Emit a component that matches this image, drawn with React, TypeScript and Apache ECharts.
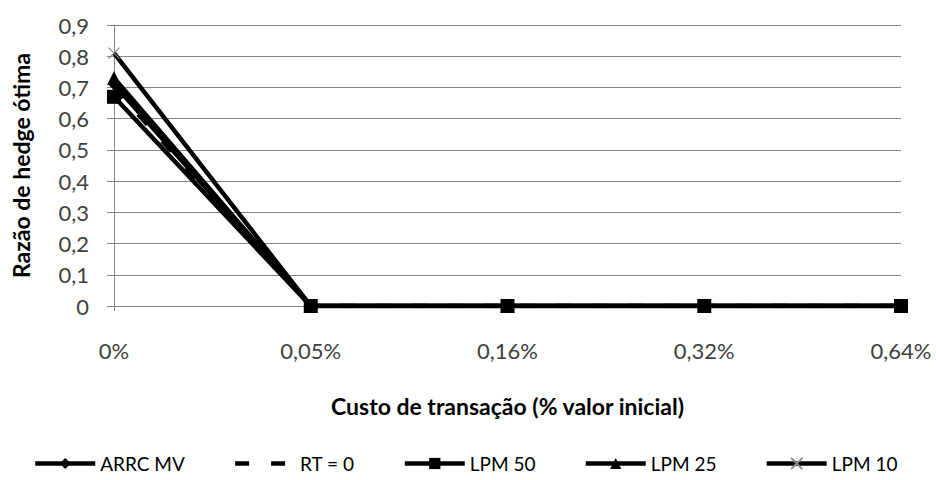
import React, { useEffect, useRef } from "react";
import * as echarts from "echarts";

const categories = ["0%", "0,05%", "0,16%", "0,32%", "0,64%"];
const arrcMv = [0.71, 0, 0, 0, 0];
const rt0 = [0.7, 0, 0, 0, 0];
const lpm50 = [0.67, 0, 0, 0, 0];
const lpm25 = [0.73, 0, 0, 0, 0];
const lpm10 = [0.81, 0, 0, 0, 0];
const yTicks = [0, 0.1, 0.2, 0.3, 0.4, 0.5, 0.6, 0.7, 0.8, 0.9];
const seriesNames = ["ARRC MV", "RT = 0", "LPM 50", "LPM 25", "LPM 10"];

const FONT = "Lato";

export default function App() {
  const ref = useRef<HTMLDivElement>(null);
  useEffect(() => {
    if (!ref.current) return;
    const chart = echarts.init(ref.current, null, { renderer: "svg" });
    const crossPath = "path://M0,0L10,10M10,0L0,10";
    const base = {
      type: "line" as const,
      lineStyle: { color: "#000", width: 4.5 },
      itemStyle: { color: "#000" },
      symbolSize: 12,
      z: 3,
    };
    chart.setOption({
      animation: false,
      textStyle: { fontFamily: FONT },
      grid: { left: 114, right: 35, top: 25, bottom: 174, containLabel: false },
      legend: {
        bottom: 2,
        left: 28,
        itemWidth: 60,
        itemHeight: 14,
        itemGap: 48,
        textStyle: { fontFamily: FONT, fontSize: 19, color: "#000" },
        data: seriesNames.map((n) =>
          n === "RT = 0"
            ? { name: n, itemStyle: { opacity: 0 }, lineStyle: { width: 4.5, type: [14, 22] } }
            : { name: n, lineStyle: { width: 4.5 } }
        ),
      },
      xAxis: {
        type: "category",
        data: categories,
        boundaryGap: false,
        name: "Custo de transação (% valor inicial)",
        nameLocation: "middle",
        nameGap: 88,
        nameTextStyle: { fontFamily: FONT, fontSize: 23, fontWeight: "bold", color: "#000" },
        axisLine: { lineStyle: { color: "#868686", width: 1 } },
        axisTick: { show: true, length: 5, alignWithLabel: true, lineStyle: { color: "#868686" } },
        axisLabel: { margin: 33, fontSize: 22, color: "#404040", fontFamily: FONT },
        splitLine: { show: false },
      },
      yAxis: {
        type: "value",
        min: 0,
        max: 0.9,
        interval: 0.1,
        name: "Razão de hedge ótima",
        nameLocation: "middle",
        nameGap: 82,
        nameTextStyle: { fontFamily: FONT, fontSize: 23, fontWeight: "bold", color: "#000" },
        axisLine: { show: true, lineStyle: { color: "#868686", width: 1 } },
        axisTick: { show: true, length: 7, lineStyle: { color: "#868686" } },
        axisLabel: {
          margin: 25,
          fontSize: 22,
          color: "#404040",
          fontFamily: FONT,
          formatter: (v: number) => {
            const t = yTicks.find((x) => Math.abs(x - v) < 1e-9);
            return t === undefined ? "" : String(t).replace(".", ",");
          },
        },
        splitLine: { show: true, lineStyle: { color: "#868686", width: 1 } },
      },
      series: [
        { ...base, name: "ARRC MV", data: arrcMv, symbol: "diamond", symbolSize: 12 },
        {
          ...base,
          name: "RT = 0",
          data: rt0,
          symbol: "none",
          lineStyle: { color: "#000", width: 4.5, type: [14, 22] },
        },
        { ...base, name: "LPM 50", data: lpm50, symbol: "rect", symbolSize: 14, z: 5 },
        { ...base, name: "LPM 25", data: lpm25, symbol: "triangle", symbolSize: 14, z: 4 },
        {
          ...base,
          name: "LPM 10",
          data: lpm10,
          symbol: crossPath,
          symbolSize: 11,
          z: 2,
          itemStyle: { color: "#888", borderColor: "#888", borderWidth: 1.2 },
        },
      ],
    });
    return () => chart.dispose();
  }, []);
  return <div ref={ref} style={{ width: 936, height: 480, position: "absolute", left: 0, top: 0 }} />;
}
